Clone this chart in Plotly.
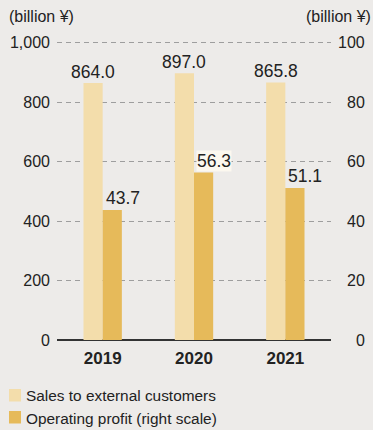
import plotly.graph_objects as go

years = ["2019", "2020", "2021"]
sales = [864.0, 897.0, 865.8]          # billion yen, left scale
op_profit = [43.7, 56.3, 51.1]         # billion yen, right scale
left_ticks = [0, 200, 400, 600, 800, 1000]
left_tick_text = ["0", "200", "400", "600", "800", "1,000"]
right_ticks = [0, 20, 40, 60, 80, 100]
right_tick_text = ["0", "20", "40", "60", "80", "100"]
series_names = ["Sales to external customers", "Operating profit (right scale)"]

LIGHT = "#F3DDAB"
DARK = "#E6BA5A"
BG = "#EDEBE9"
TXT = "#222222"
FONT = "Liberation Sans, Arial, sans-serif"

W, H = 373, 430
L, R, T, B = 57, 7, 39, 90
plot_right = 331
x_dom_end = (plot_right - L) / (W - L - R)
BAR_W = 0.21
# scale: 1000 units over 297.5 px, plot area a little taller than that
Y_TOP = 1000 * (H - T - B) / 297.5


def px_x(p):
    """Page pixel x -> paper fraction."""
    return (p - L) / (W - L - R)


def px_y(p):
    """Page pixel y (from top) -> paper fraction."""
    return (H - B - p) / (H - T - B)


fig = go.Figure()
fig.add_trace(go.Bar(
    x=years, y=sales, name=series_names[0],
    marker=dict(color=LIGHT, line=dict(width=0)),
    offset=-BAR_W, width=BAR_W, xaxis="x", yaxis="y", showlegend=False,
))
fig.add_trace(go.Bar(
    x=years, y=op_profit, name=series_names[1],
    marker=dict(color=DARK, line=dict(width=0)),
    offset=0.0, width=BAR_W, xaxis="x", yaxis="y2", showlegend=False,
))

annotations = []
# value labels (x given as category index)
for i, v in enumerate(sales):
    annotations.append(dict(
        x=i - BAR_W / 2, y=v, xref="x", yref="y", text=f"{v:.1f}",
        showarrow=False, xanchor="center", yanchor="middle", yshift=11,
        font=dict(family=FONT, size=17.5, color=TXT),
    ))
for i, v in enumerate(op_profit):
    annotations.append(dict(
        x=i, y=v, xref="x", yref="y2", text=f"{v:.1f}",
        showarrow=False, xanchor="left", yanchor="middle", xshift=2, yshift=12,
        font=dict(family=FONT, size=17.5, color=TXT),
        bgcolor="#FCF8EF" if i == 1 else "rgba(0,0,0,0)",
        borderpad=0,
    ))
# right-scale tick labels, right-aligned at the page edge
for v, t in zip(right_ticks, right_tick_text):
    annotations.append(dict(
        x=1.0, y=v, xref="paper", yref="y2", text=t, showarrow=False,
        xanchor="right", yanchor="middle", xshift=1,
        font=dict(family=FONT, size=16, color=TXT),
    ))
# unit labels
annotations.append(dict(
    x=px_x(7), y=px_y(17), xref="paper", yref="paper", text="(billion ¥)",
    showarrow=False, xanchor="left", yanchor="middle",
    font=dict(family=FONT, size=16, color=TXT),
))
annotations.append(dict(
    x=px_x(373), y=px_y(17), xref="paper", yref="paper", text="(billion ¥)",
    showarrow=False, xanchor="right", yanchor="middle",
    font=dict(family=FONT, size=16, color=TXT),
))

# legend: colour swatches with their captions
shapes = []
for k, (name, col) in enumerate(zip(series_names, [LIGHT, DARK])):
    top = 389 + 22 * k
    shapes.append(dict(
        type="rect", xref="paper", yref="paper",
        x0=px_x(9), x1=px_x(21), y0=px_y(top + 12.5), y1=px_y(top),
        fillcolor=col, line=dict(width=0),
    ))
    annotations.append(dict(
        x=px_x(24), y=px_y(top + 7), xref="paper", yref="paper", text=name,
        showarrow=False, xanchor="left", yanchor="middle",
        font=dict(family=FONT, size=15.4, color=TXT),
    ))

fig.update_layout(
    width=W, height=H,
    margin=dict(l=L, r=R, t=T, b=B, pad=0, autoexpand=False),
    paper_bgcolor=BG, plot_bgcolor=BG,
    font=dict(family=FONT, color=TXT),
    showlegend=False,
    xaxis=dict(
        domain=[0, x_dom_end], range=[-0.5, 2.5], type="category",
        showgrid=False, zeroline=False, showline=False, ticks="",
        tickfont=dict(family=FONT, size=17, color=TXT, weight="bold"),
        ticklabelstandoff=6, tickangle=0,
    ),
    yaxis=dict(
        range=[0, Y_TOP], tickvals=left_ticks, ticktext=left_tick_text,
        showgrid=True, gridcolor="#9E9E9E", griddash="5px,4px", gridwidth=1,
        zeroline=True, zerolinecolor="#333333", zerolinewidth=2,
        showline=False, ticks="", ticklabelstandoff=6,
        tickfont=dict(family=FONT, size=16, color=TXT),
    ),
    yaxis2=dict(
        range=[0, Y_TOP / 10], overlaying="y", side="right",
        showgrid=False, zeroline=False, showline=False, ticks="",
        showticklabels=False,
    ),
    shapes=shapes,
    annotations=annotations,
)

fig.write_html("out.html")
